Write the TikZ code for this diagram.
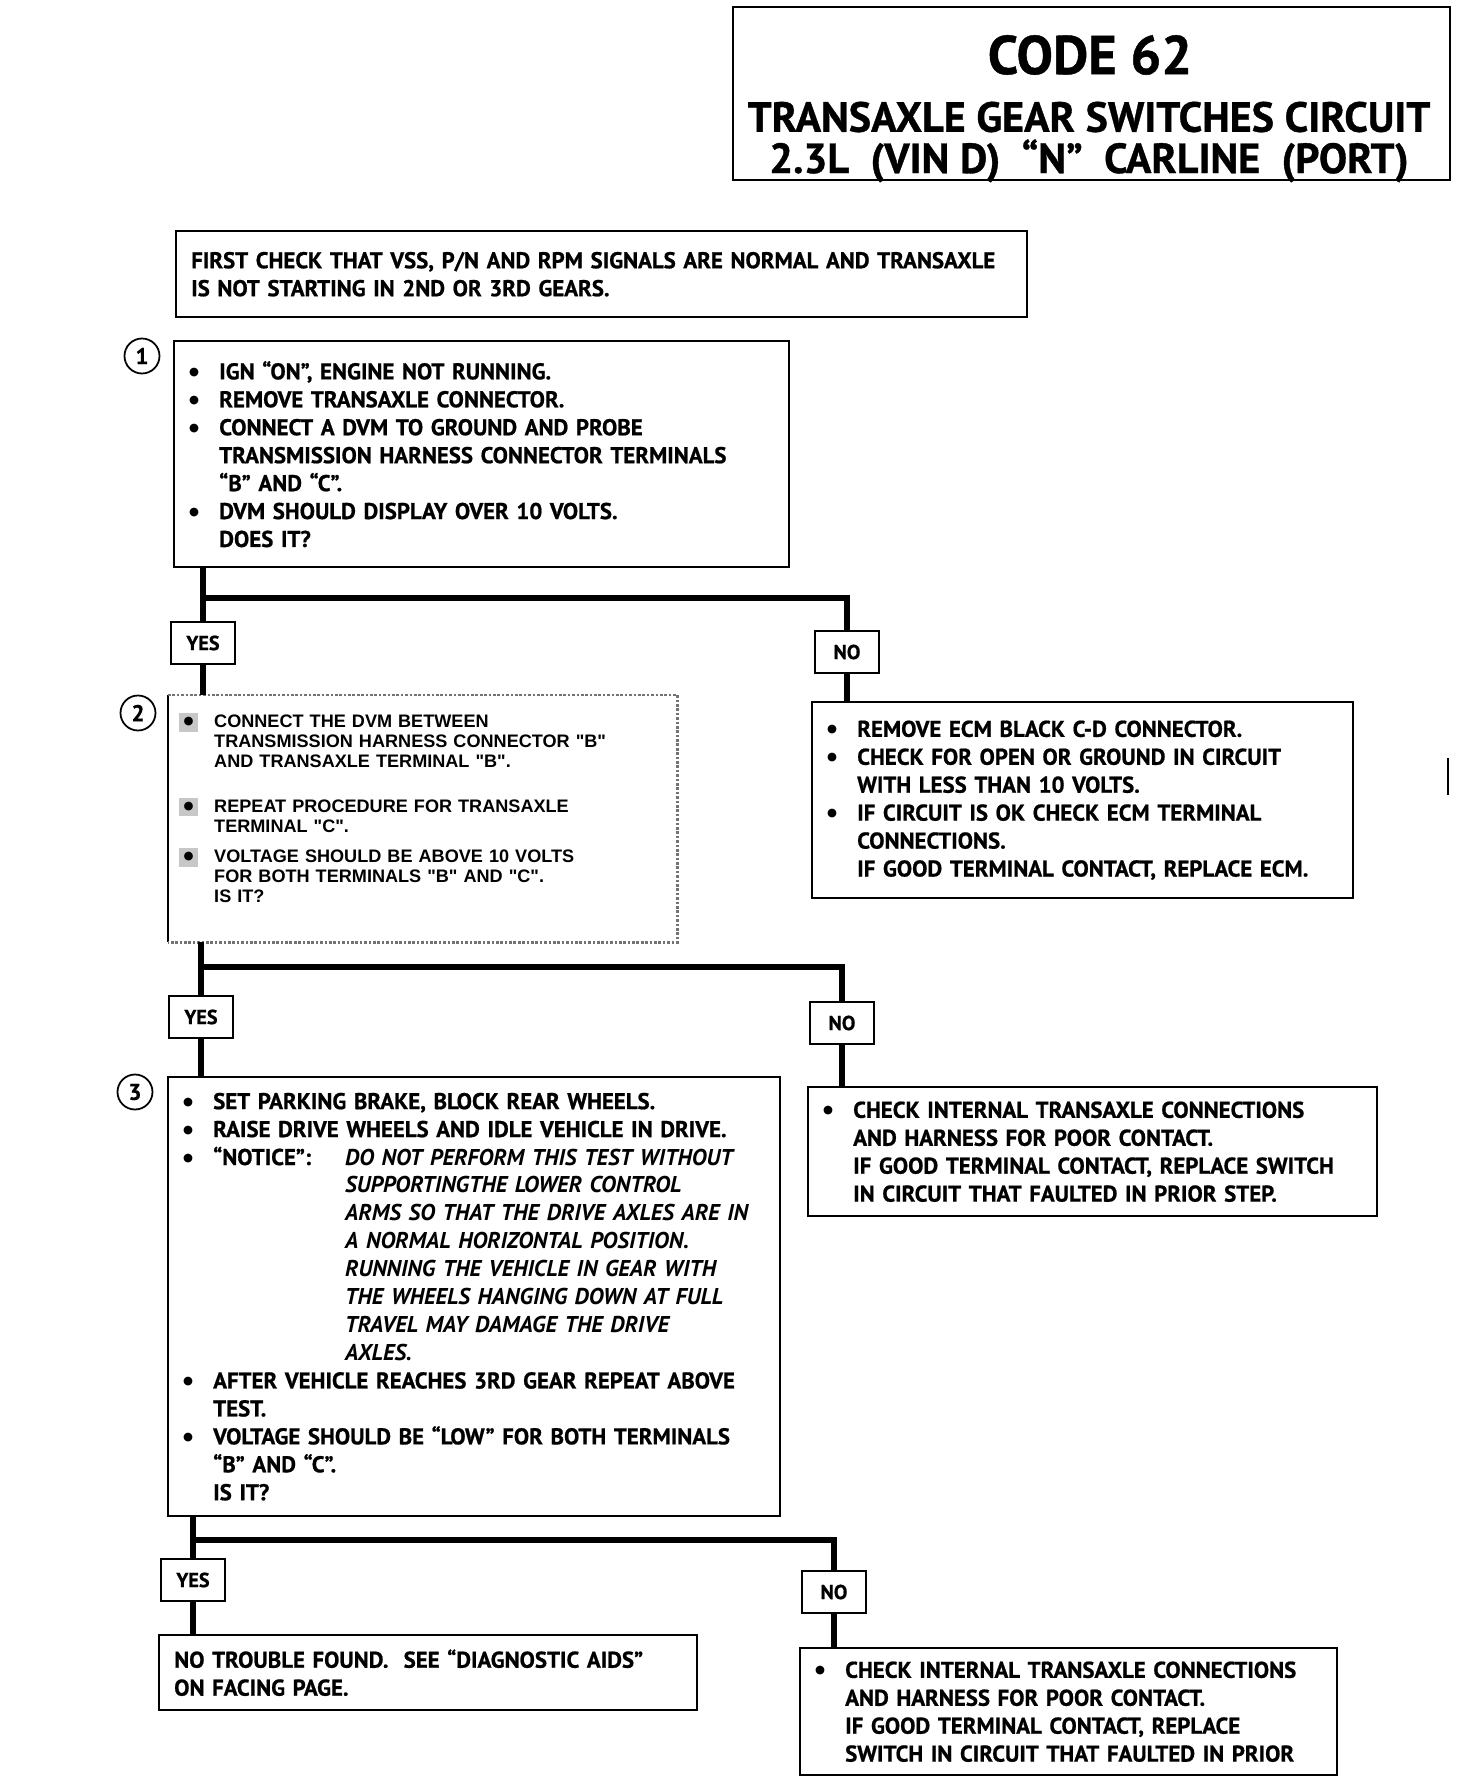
\documentclass[tikz,border=0pt]{standalone}
\usepackage{fontspec}
\setmainfont{PT Sans}[BoldFeatures={FakeBold=0.8}]
\newfontfamily\helv{Liberation Sans}
\newfontfamily\dotfont{DejaVu Sans}
\usetikzlibrary{positioning, calc}

\newcommand{\bul}{\makebox[0.6cm][l]{\raisebox{2.2pt}{\dotfont\fontsize{6.5}{6}\selectfont ●}}}
\newcommand{\ind}{\hspace*{0.6cm}}
\newcommand{\dbul}{\makebox[0.7cm][l]{\smash{\setlength{\fboxsep}{2.5pt}\colorbox{black!22}{\raisebox{1.6pt}{\dotfont\fontsize{6.5}{6}\selectfont ●}}}}}
\newcommand{\dind}{\hspace*{0.7cm}}
\newcommand{\note}[1]{\hspace*{3.24cm}{\itshape #1}}

\begin{document}
\begin{tikzpicture}[x=0.02cm, y=-0.02cm,
    stepbox/.style={draw, line width=1.4pt, anchor=north west, inner xsep=0.3cm, inner ysep=0pt, align=left, font=\bfseries\fontsize{13}{15.9}\selectfont},
    answer/.style={draw, line width=1.4pt, fill=white, minimum width=1.28cm, minimum height=0.84cm, inner sep=0pt, font=\bfseries\fontsize{11.5}{13}\selectfont},
    stepnum/.style={circle, draw, line width=1pt, minimum size=0.7cm, inner sep=0pt, font=\bfseries\fontsize{13}{15}\selectfont},
    flow/.style={line width=3.4pt},
    stipple/.style={line width=1.5pt, densely dotted, black!55}]
    \useasboundingbox (0,0) rectangle (1456,1780);

    % Title
    \node[draw, line width=1.4pt, anchor=north west, minimum width=14.34cm, minimum height=3.46cm] (Title) at (732,6) {};
    \node[font=\bfseries\fontsize{31}{36}\selectfont] (Code) at (1090,55) {CODE 62};
    \node[font=\bfseries\fontsize{24}{23.5}\selectfont, align=center] (Circuit) at (1089,142) {TRANSAXLE GEAR SWITCHES CIRCUIT\\2.3L\ \ (VIN D)\ \ “N”\ \ CARLINE\ \ (PORT)};

    % Steps
    \node[stepbox, text width=16.42cm, minimum height=1.72cm] (Check) at (175,230) {FIRST CHECK THAT VSS, P/N AND RPM SIGNALS ARE NORMAL AND TRANSAXLE\\IS NOT STARTING IN 2ND OR 3RD GEARS.};

    \node[stepnum] (Num1) at (142,356) {1};
    \node[stepbox, text width=11.7cm, minimum height=4.52cm] (Step1) at (173,340) {
        \bul IGN “ON”, ENGINE NOT RUNNING.\\
        \bul REMOVE TRANSAXLE CONNECTOR.\\
        \bul CONNECT A DVM TO GROUND AND PROBE\\
        \ind TRANSMISSION HARNESS CONNECTOR TERMINALS\\
        \ind “B” AND “C”.\\
        \bul DVM SHOULD DISPLAY OVER 10 VOLTS.\\
        \ind DOES IT?};

    \node[answer] (Yes1) at (203,643) {YES};
    \node[answer] (No1) at (847,652) {NO};
    \node[stepbox, text width=10.22cm, minimum height=3.92cm] (Ecm) at (811,701) {
        \bul REMOVE ECM BLACK C-D CONNECTOR.\\
        \bul CHECK FOR OPEN OR GROUND IN CIRCUIT\\
        \ind WITH LESS THAN 10 VOLTS.\\
        \bul IF CIRCUIT IS OK CHECK ECM TERMINAL\\
        \ind CONNECTIONS.\\
        \ind IF GOOD TERMINAL CONTACT, REPLACE ECM.};

    \node[stepnum] (Num2) at (138,713) {2};
    \node[stepbox, draw=none, inner xsep=0.2cm, text width=9.74cm, minimum height=4.9cm, font=\helv\bfseries\fontsize{10.3}{11.4}\selectfont] (Step2) at (168,695) {
        \dbul CONNECT THE DVM BETWEEN\\
        \dind TRANSMISSION HARNESS CONNECTOR "B"\\
        \dind AND TRANSAXLE TERMINAL "B".\\[14pt]
        \dbul REPEAT PROCEDURE FOR TRANSAXLE\\
        \dind TERMINAL "C".\\[6pt]
        \dbul VOLTAGE SHOULD BE ABOVE 10 VOLTS\\
        \dind FOR BOTH TERMINALS "B" AND "C".\\
        \dind IS IT?\\
        \mbox{}};
    \draw[line width=1.4pt] (Step2.north west) -- (Step2.south west);
    \draw[stipple] (Step2.north west) -- (Step2.north east) -- (Step2.south east) -- (Step2.south west);

    \node[answer] (Yes2) at (201,1017) {YES};
    \node[answer] (No2) at (842,1023) {NO};
    \node[stepbox, text width=10.78cm, minimum height=2.58cm] (Internal1) at (807,1086) {
        \bul CHECK INTERNAL TRANSAXLE CONNECTIONS\\
        \ind AND HARNESS FOR POOR CONTACT.\\
        \ind IF GOOD TERMINAL CONTACT, REPLACE SWITCH\\
        \ind IN CIRCUIT THAT FAULTED IN PRIOR STEP.};

    \node[stepnum] (Num3) at (135,1092) {3};
    \node[stepbox, text width=11.64cm, minimum height=8.78cm] (Step3) at (167,1076) {
        \bul SET PARKING BRAKE, BLOCK REAR WHEELS.\\
        \bul RAISE DRIVE WHEELS AND IDLE VEHICLE IN DRIVE.\\
        \bul \makebox[2.64cm][l]{“NOTICE”:}{\itshape DO NOT PERFORM THIS TEST WITHOUT}\\
        \note{SUPPORTINGTHE LOWER CONTROL}\\
        \note{ARMS SO THAT THE DRIVE AXLES ARE IN}\\
        \note{A NORMAL HORIZONTAL POSITION.}\\
        \note{RUNNING THE VEHICLE IN GEAR WITH}\\
        \note{THE WHEELS HANGING DOWN AT FULL}\\
        \note{TRAVEL MAY DAMAGE THE DRIVE}\\
        \note{AXLES.}\\
        \bul AFTER VEHICLE REACHES 3RD GEAR REPEAT ABOVE\\
        \ind TEST.\\
        \bul VOLTAGE SHOULD BE “LOW” FOR BOTH TERMINALS\\
        \ind “B” AND “C”.\\
        \ind IS IT?};

    \node[answer] (Yes3) at (193,1580) {YES};
    \node[answer] (No3) at (834,1592) {NO};
    \node[stepbox, text width=10.16cm, minimum height=1.5cm] (Found) at (158,1634) {NO TROUBLE FOUND.\ \ SEE “DIAGNOSTIC AIDS”\\ON FACING PAGE.};
    \node[stepbox, text width=10.14cm, minimum height=2.54cm] (Internal2) at (799,1647) {
        \bul CHECK INTERNAL TRANSAXLE CONNECTIONS\\
        \ind AND HARNESS FOR POOR CONTACT.\\
        \ind IF GOOD TERMINAL CONTACT, REPLACE\\
        \ind SWITCH IN CIRCUIT THAT FAULTED IN PRIOR};

    % Branches
    \coordinate (Split1) at (203,598);
    \draw[flow] (Step1.south -| Yes1) -- (Yes1.north);
    \draw[flow] (Yes1.south) -- (Yes1.south |- Step2.north);
    \draw[flow] (Split1) -| (No1.north);
    \draw[flow] (No1.south) -- (No1.south |- Ecm.north);

    \coordinate (Split2) at (201,967);
    \draw[flow] (Step2.south -| Yes2) -- (Yes2.north);
    \draw[flow] (Yes2.south) -- (Yes2.south |- Step3.north);
    \draw[flow] (Split2) -| (No2.north);
    \draw[flow] (No2.south) -- (No2.south |- Internal1.north);

    \coordinate (Split3) at (193,1540);
    \draw[flow] (Step3.south -| Yes3) -- (Yes3.north);
    \draw[flow] (Yes3.south) -- (Yes3.south |- Found.north);
    \draw[flow] (Split3) -| (No3.north);
    \draw[flow] (No3.south) -- (No3.south |- Internal2.north);

    % stray mark at the right edge
    \draw[line width=0.6pt] (1448,758) -- (1448,795);
\end{tikzpicture}
\end{document}
